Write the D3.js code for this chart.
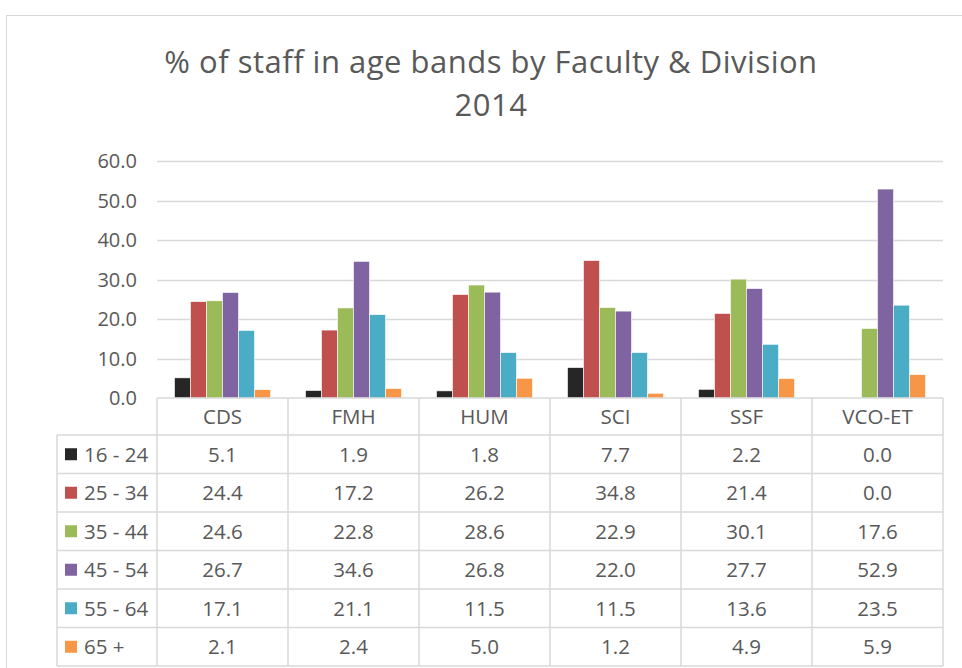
<!DOCTYPE html>
<html>
<head>
<meta charset="utf-8">
<script src="https://cdn.jsdelivr.net/npm/d3@7"></script>
<style>
  body { margin: 0; background: #fff; }
  svg text { font-family: "Open Sans", "Liberation Sans", sans-serif; fill: #595959; }
</style>
</head>
<body>
<script>
(function(){

    //chart data
    var categories = ["CDS", "FMH", "HUM", "SCI", "SSF", "VCO-ET"];
    var bands = ["16 - 24", "25 - 34", "35 - 44", "45 - 54", "55 - 64", "65 +"];
    var colors = ["#262626", "#C0504D", "#9BBB59", "#8064A2", "#4BACC6", "#F79646"];
    var v16 = [5.1, 1.9, 1.8, 7.7, 2.2, 0.0];
    var v25 = [24.4, 17.2, 26.2, 34.8, 21.4, 0.0];
    var v35 = [24.6, 22.8, 28.6, 22.9, 30.1, 17.6];
    var v45 = [26.7, 34.6, 26.8, 22.0, 27.7, 52.9];
    var v55 = [17.1, 21.1, 11.5, 11.5, 13.6, 23.5];
    var v65 = [2.1, 2.4, 5.0, 1.2, 4.9, 5.9];
    var yTicks = [0, 10, 20, 30, 40, 50, 60];

    var series = [v16, v25, v35, v45, v55, v65];

    var width = 962, height = 668;

    var svg = d3.select("body").append("svg")
        .attr("width", width)
        .attr("height", height);

    //outer chart border
    svg.append("rect")
        .attr("x", 6.5).attr("y", 15.5)
        .attr("width", 1000).attr("height", 700)
        .attr("fill", "none")
        .attr("stroke", "#d9d9d9");

    //title
    var title = svg.append("text")
        .attr("text-anchor", "middle")
        .style("font-size", "31px")
        .style("letter-spacing", "0.5px");
    title.append("tspan").attr("x", 491).attr("y", 73).text("% of staff in age bands by Faculty & Division");
    title.append("tspan").attr("x", 491).attr("y", 116).text("2014");

    var x = d3.scaleBand().domain(categories).range([157, 943]);
    var xInner = d3.scaleBand().domain(d3.range(bands.length)).range([17.5, x.bandwidth() - 17.5]);
    var y = d3.scaleLinear().domain([0, 60]).range([398, 161]);

    //gridlines
    svg.append("g").selectAll("line")
        .data(yTicks.slice(1))
        .enter().append("line")
        .attr("x1", 157).attr("x2", 943)
        .attr("y1", function(d){ return Math.round(y(d)) + 0.5; })
        .attr("y2", function(d){ return Math.round(y(d)) + 0.5; })
        .attr("stroke", "#d9d9d9")
        .attr("stroke-width", 1.5);

    //y axis labels
    svg.append("g").selectAll("text")
        .data(yTicks)
        .enter().append("text")
        .attr("x", 137)
        .attr("y", function(d){ return y(d) + 7; })
        .attr("text-anchor", "end")
        .style("font-size", "20px")
        .text(function(d){ return d3.format(".1f")(d); });

    //bars
    var groups = svg.append("g").selectAll("g")
        .data(series)
        .enter().append("g")
        .attr("fill", function(d, i){ return colors[i]; });

    groups.each(function(vals, si){
        d3.select(this).selectAll("rect")
            .data(vals)
            .enter().append("rect")
            .attr("x", function(d, ci){ return x(categories[ci]) + xInner(si); })
            .attr("y", function(d){ return y(d); })
            .attr("width", xInner.bandwidth())
            .attr("height", function(d){ return y(0) - y(d); })
            .attr("stroke", "#fff")
            .attr("stroke-width", 0.6)
            .style("display", function(d){ return d > 0 ? null : "none"; });
    });

    //data table
    var tableTop = 398, headerH = 37, rowH = 38.5, legendLeft = 57;
    var tableBottom = tableTop + headerH + rowH * bands.length;
    var table = svg.append("g").attr("stroke", "#d9d9d9").attr("stroke-width", 1.5);

    //axis line / header top
    table.append("line")
        .attr("x1", 157).attr("x2", 943)
        .attr("y1", tableTop).attr("y2", tableTop);

    //vertical lines
    table.selectAll(".vline")
        .data(categories.concat(["end"]))
        .enter().append("line")
        .attr("class", "vline")
        .attr("x1", function(d, i){ return 157 + i * x.bandwidth(); })
        .attr("x2", function(d, i){ return 157 + i * x.bandwidth(); })
        .attr("y1", tableTop).attr("y2", tableBottom);

    table.append("line")
        .attr("x1", legendLeft).attr("x2", legendLeft)
        .attr("y1", tableTop + headerH).attr("y2", tableBottom);

    //horizontal row lines
    table.selectAll(".hline")
        .data(d3.range(bands.length + 1))
        .enter().append("line")
        .attr("class", "hline")
        .attr("x1", legendLeft).attr("x2", 943)
        .attr("y1", function(d){ return tableTop + headerH + d * rowH; })
        .attr("y2", function(d){ return tableTop + headerH + d * rowH; });

    //header labels
    svg.append("g").selectAll("text")
        .data(categories)
        .enter().append("text")
        .attr("x", function(d){ return x(d) + x.bandwidth() / 2; })
        .attr("y", tableTop + headerH / 2 + 7)
        .attr("text-anchor", "middle")
        .style("font-size", "20.5px")
        .text(function(d){ return d; });

    //rows
    var rows = svg.append("g").selectAll("g")
        .data(series)
        .enter().append("g")
        .attr("transform", function(d, i){
            return "translate(0," + (tableTop + headerH + i * rowH + rowH / 2) + ")";
        });

    rows.append("rect")
        .attr("x", 65).attr("y", -6)
        .attr("width", 12).attr("height", 12)
        .attr("fill", function(d, i){ return colors[i]; });

    rows.append("text")
        .attr("x", 84).attr("y", 7.5)
        .style("font-size", "20.5px")
        .text(function(d, i){ return bands[i]; });

    rows.selectAll(".val")
        .data(function(d){ return d; })
        .enter().append("text")
        .attr("class", "val")
        .attr("x", function(d, ci){ return x(categories[ci]) + x.bandwidth() / 2; })
        .attr("y", 7.5)
        .attr("text-anchor", "middle")
        .style("font-size", "20.5px")
        .text(function(d){ return d3.format(".1f")(d); });

})();
</script>
</body>
</html>
